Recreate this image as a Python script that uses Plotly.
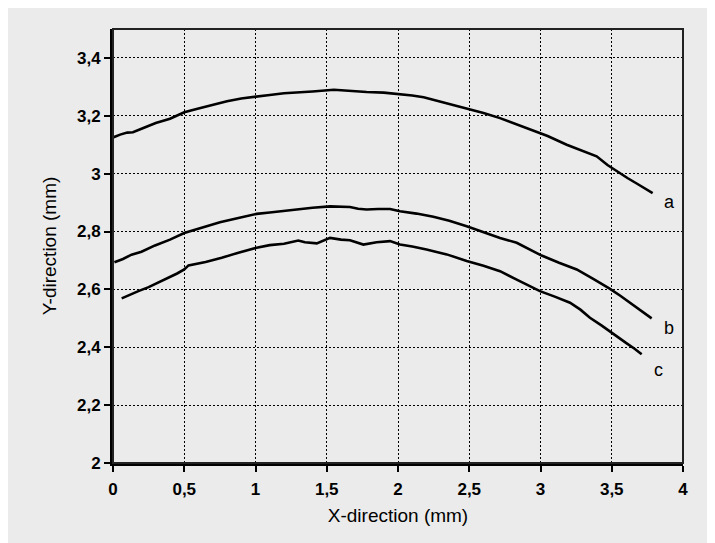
import plotly.graph_objects as go

# ---- data ----
a_x = [0.00, 0.05, 0.10, 0.14, 0.20, 0.30, 0.40, 0.50, 0.60, 0.70, 0.80, 0.90, 1.00, 1.10, 1.20, 1.31, 1.40, 1.55, 1.65, 1.78, 1.90, 1.99, 2.10, 2.18, 2.26, 2.34, 2.42, 2.505, 2.60, 2.716, 2.82, 2.926, 3.05, 3.184, 3.29, 3.394, 3.47, 3.535, 3.61, 3.675, 3.73, 3.787]
a_y = [3.125, 3.135, 3.142, 3.143, 3.155, 3.175, 3.19, 3.212, 3.225, 3.238, 3.25, 3.26, 3.267, 3.272, 3.278, 3.28, 3.284, 3.29, 3.286, 3.282, 3.28, 3.276, 3.27, 3.264, 3.254, 3.244, 3.235, 3.223, 3.21, 3.192, 3.173, 3.155, 3.13, 3.10, 3.08, 3.06, 3.03, 3.008, 2.985, 2.966, 2.95, 2.933]

b_x = [0.01, 0.07, 0.13, 0.20, 0.295, 0.40, 0.50, 0.57, 0.646, 0.75, 0.88, 1.008, 1.10, 1.20, 1.30, 1.40, 1.523, 1.60, 1.663, 1.72, 1.78, 1.86, 1.944, 2.014, 2.13, 2.248, 2.36, 2.482, 2.60, 2.716, 2.833, 2.92, 3.008, 3.13, 3.254, 3.37, 3.488, 3.56, 3.628, 3.70, 3.78]
b_y = [2.694, 2.705, 2.72, 2.73, 2.752, 2.772, 2.795, 2.805, 2.818, 2.832, 2.847, 2.861, 2.866, 2.872, 2.878, 2.882, 2.887, 2.885, 2.885, 2.879, 2.876, 2.878, 2.878, 2.870, 2.862, 2.851, 2.837, 2.818, 2.798, 2.778, 2.761, 2.74, 2.717, 2.692, 2.669, 2.636, 2.602, 2.578, 2.554, 2.527, 2.50]

c_x = [0.061, 0.10, 0.178, 0.25, 0.365, 0.45, 0.50, 0.53, 0.65, 0.763, 0.88, 1.008, 1.10, 1.20, 1.30, 1.347, 1.43, 1.523, 1.60, 1.663, 1.757, 1.85, 1.944, 2.014, 2.10, 2.20, 2.342, 2.482, 2.60, 2.716, 2.833, 2.996, 3.10, 3.207, 3.28, 3.347, 3.43, 3.511, 3.60, 3.66, 3.71]
c_y = [2.569, 2.578, 2.594, 2.608, 2.634, 2.655, 2.669, 2.683, 2.695, 2.709, 2.727, 2.744, 2.753, 2.758, 2.769, 2.763, 2.759, 2.778, 2.772, 2.77, 2.755, 2.763, 2.767, 2.755, 2.748, 2.738, 2.721, 2.698, 2.682, 2.663, 2.634, 2.594, 2.575, 2.554, 2.53, 2.502, 2.475, 2.445, 2.415, 2.395, 2.376]

curve_labels = ["a", "b", "c"]
label_x = [3.904, 3.904, 3.825]
label_y = [2.901, 2.466, 2.321]

x_ticks = [0, 0.5, 1, 1.5, 2, 2.5, 3, 3.5, 4]
x_ticktext = ["0", "0,5", "1", "1,5", "2", "2,5", "3", "3,5", "4"]
y_ticks = [2, 2.2, 2.4, 2.6, 2.8, 3, 3.2, 3.4]
y_ticktext = ["2", "2,2", "2,4", "2,6", "2,8", "3", "3,2", "3,4"]

x_title = "X-direction (mm)"
y_title = "Y-direction (mm)"

BG = "#ebebeb"
fig = go.Figure()
for xs, ys in [(a_x, a_y), (b_x, b_y), (c_x, c_y)]:
    fig.add_trace(go.Scatter(x=xs, y=ys, mode="lines",
                             line=dict(color="black", width=2.6),
                             showlegend=False, hoverinfo="skip"))

for t, lx, ly in zip(curve_labels, label_x, label_y):
    fig.add_annotation(x=lx, y=ly, text=t, showarrow=False,
                       font=dict(family="Liberation Sans, Arial, sans-serif", size=18, color="black"))

tickfont = dict(family="Liberation Sans, Arial, sans-serif", size=17, color="black", weight="bold")
titlefont = dict(family="Liberation Sans, Arial, sans-serif", size=19, color="black")

fig.update_xaxes(range=[0, 4], tickvals=x_ticks, ticktext=x_ticktext,
                 showline=True, linecolor="black", linewidth=3,
                 ticks="outside", ticklen=6, tickwidth=2, tickcolor="black",
                 showgrid=True, gridcolor="black", gridwidth=1.3, griddash="2px,2px",
                 zeroline=False, tickfont=tickfont, ticklabelstandoff=3,
                 title=dict(text=x_title, font=titlefont, standoff=11))
fig.update_yaxes(range=[2, 3.5], tickvals=y_ticks, ticktext=y_ticktext,
                 showline=True, linecolor="black", linewidth=3,
                 ticks="outside", ticklen=6, tickwidth=2, tickcolor="black",
                 showgrid=True, gridcolor="black", gridwidth=1.3, griddash="2px,2px",
                 zeroline=False, tickfont=tickfont,
                 title=dict(text=y_title, font=titlefont, standoff=16))

# thin frame on top/right
fig.add_shape(type="rect", xref="paper", yref="paper",
              x0=0, x1=1, y0=0, y1=1,
              line=dict(color="#222222", width=2), layer="above")

fig.update_layout(width=707, height=535,
                  margin=dict(l=105, r=32, t=21, b=80),
                  paper_bgcolor=BG, plot_bgcolor=BG)

fig.write_html("out.html")
